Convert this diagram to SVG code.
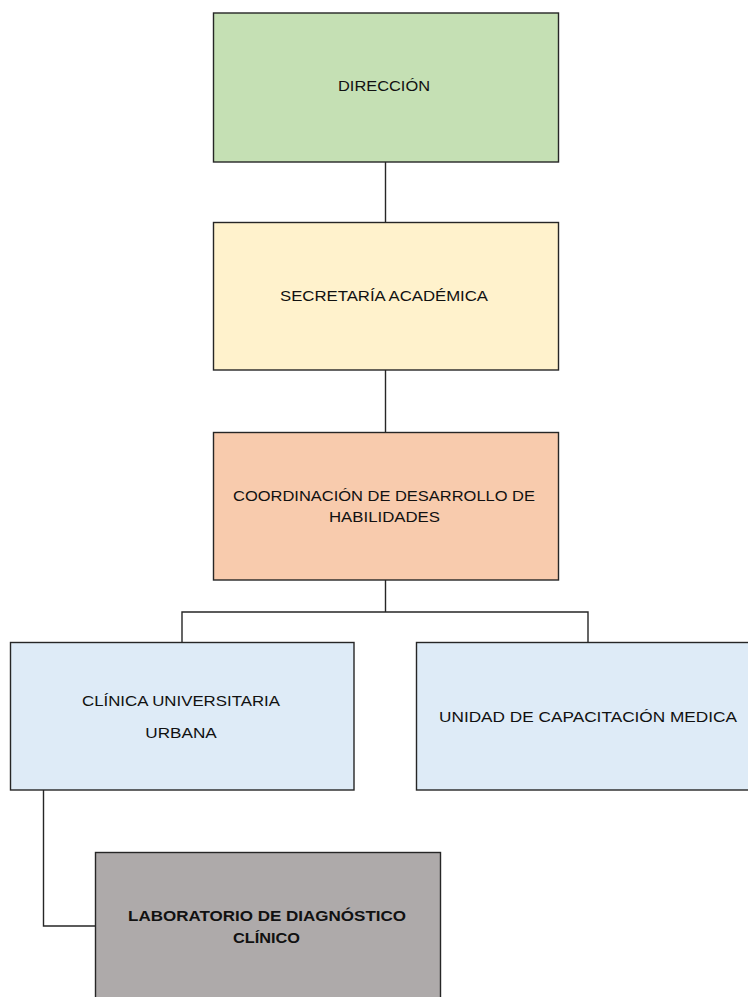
<svg xmlns="http://www.w3.org/2000/svg" width="748" height="997" viewBox="0 0 748 997">
<style>
.box{stroke:#262626;stroke-width:1.4}
.lbl{font-family:"Liberation Sans",Arial,sans-serif;font-size:15.5px;fill:#111111;text-anchor:middle}
.b{font-weight:bold}
.con{fill:none;stroke:#262626;stroke-width:1.4}
</style>
<rect width="748" height="997" fill="#ffffff"/>
<g id="connectors">
<path class="con" d="M385.5 162V222"/>
<path class="con" d="M385.5 370V432"/>
<path class="con" d="M385.5 580V612M182 642V612H588V642"/>
<path class="con" d="M43.5 790V926H95"/>
</g>
<g id="direccion">
<rect class="box" x="213.5" y="13" width="345" height="149" fill="#C5E0B4"/>
<text class="lbl" x="384" y="90.5" textLength="92" lengthAdjust="spacingAndGlyphs">DIRECCIÓN</text>
</g>
<g id="secretaria">
<rect class="box" x="213.5" y="222.5" width="345" height="147.5" fill="#FFF2CC"/>
<text class="lbl" x="384" y="300.5" textLength="208" lengthAdjust="spacingAndGlyphs">SECRETARÍA ACADÉMICA</text>
</g>
<g id="coordinacion">
<rect class="box" x="213.5" y="432.5" width="345" height="147.5" fill="#F8CBAD"/>
<text class="lbl" x="384" y="500.5" textLength="302" lengthAdjust="spacingAndGlyphs">COORDINACIÓN DE DESARROLLO DE</text>
<text class="lbl" x="384.5" y="522" textLength="111" lengthAdjust="spacingAndGlyphs">HABILIDADES</text>
</g>
<g id="clinica">
<rect class="box" x="10.5" y="642.5" width="343.5" height="147.5" fill="#DEEBF7"/>
<text class="lbl" x="181" y="705.5" textLength="198" lengthAdjust="spacingAndGlyphs">CLÍNICA UNIVERSITARIA</text>
<text class="lbl" x="181" y="737.5" textLength="71.5" lengthAdjust="spacingAndGlyphs">URBANA</text>
</g>
<g id="unidad">
<rect class="box" x="416.5" y="642.5" width="340" height="147.5" fill="#DEEBF7"/>
<text class="lbl" x="588" y="721.5" textLength="298" lengthAdjust="spacingAndGlyphs">UNIDAD DE CAPACITACIÓN MEDICA</text>
</g>
<g id="laboratorio">
<rect class="box" x="95.5" y="852.5" width="345" height="160" fill="#AEAAAA"/>
<text class="lbl b" x="267" y="920.5" textLength="278" lengthAdjust="spacingAndGlyphs">LABORATORIO DE DIAGNÓSTICO</text>
<text class="lbl b" x="266.5" y="942.5" textLength="67" lengthAdjust="spacingAndGlyphs">CLÍNICO</text>
</g>
</svg>
